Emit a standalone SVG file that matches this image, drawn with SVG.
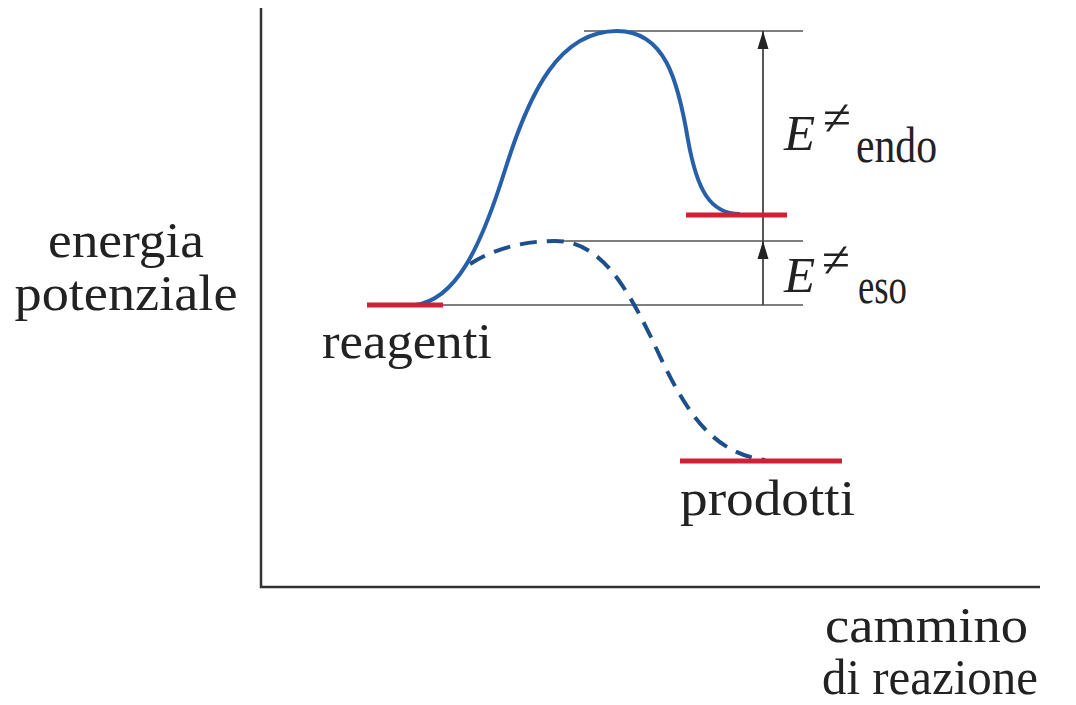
<svg xmlns="http://www.w3.org/2000/svg" width="1076" height="705" viewBox="0 0 1076 705">
<defs>
<style>
.lbl{font-family:"Liberation Serif","DejaVu Serif",serif;fill:#222;font-size:51px}
.it{font-style:italic}
.axis{stroke:#333;stroke-width:2.5;fill:none}
.thin{stroke:#555;stroke-width:1.6;fill:none}
.lvl{stroke:#cf2036;stroke-width:5;fill:none}
.curve{stroke:#2660aa;stroke-width:4;fill:none}
.dash{stroke:#1d4f8c;stroke-width:4;fill:none;stroke-dasharray:17 10}
.head{fill:#222}
.vline{stroke:#444;stroke-width:1.8}
</style>
</defs>
<rect width="1076" height="705" fill="#fff"/>
<g id="axes">
<path class="axis" d="M261,8 V587 H1040"/>
</g>
<g id="connectors">
<path class="thin" d="M584,31 H803"/>
<path class="thin" d="M560,241 H803"/>
<path class="thin" d="M443,305 H803"/>
<line class="vline" x1="763" y1="305" x2="763" y2="241"/>
<path class="head" d="M757.5,259 L763,241 L768.5,259 Z"/>
<line class="vline" x1="763" y1="241" x2="763" y2="31"/>
<path class="head" d="M757.5,49 L763,31 L768.5,49 Z"/>
<path class="dash" d="M470,264 C495,248 525,241 555,241 C600,241 625,285 650,335 C680,400 705,452 765,460"/>
<path class="curve" d="M415,305 C455,300 480,250 505,170 C530,90 560,31 617,31 C665,31 678,80 688,140 C697,190 710,214 740,214"/>
</g>
<g id="reagenti">
<path class="lvl" d="M367,305 H443"/>
<text class="lbl" x="322" y="358" textLength="170" lengthAdjust="spacingAndGlyphs">reagenti</text>
</g>
<g id="intermedio-endo">
<path class="lvl" d="M686,215 H787"/>
</g>
<g id="prodotti">
<path class="lvl" d="M680,461 H842"/>
<text class="lbl" x="680" y="515" textLength="175" lengthAdjust="spacingAndGlyphs">prodotti</text>
</g>
<g id="label-endo">
<text class="lbl it" x="784" y="150" font-size="55">E</text>
<text class="lbl" x="823" y="135" font-size="38">≠</text>
<text class="lbl" x="856" y="162" font-size="41" textLength="81" lengthAdjust="spacingAndGlyphs">endo</text>
</g>
<g id="label-eso">
<text class="lbl it" x="784" y="292" font-size="55">E</text>
<text class="lbl" x="822" y="277" font-size="38">≠</text>
<text class="lbl" x="858" y="303" font-size="38" textLength="49" lengthAdjust="spacingAndGlyphs">eso</text>
</g>
<g id="y-label">
<text class="lbl" x="126" y="257" text-anchor="middle" textLength="156" lengthAdjust="spacingAndGlyphs">energia</text>
<text class="lbl" x="126" y="310" text-anchor="middle" textLength="223" lengthAdjust="spacingAndGlyphs">potenziale</text>
</g>
<g id="x-label">
<text class="lbl" x="825" y="642" textLength="203" lengthAdjust="spacingAndGlyphs">cammino</text>
<text class="lbl" x="822" y="694" textLength="216" lengthAdjust="spacingAndGlyphs">di reazione</text>
</g>
</svg>
